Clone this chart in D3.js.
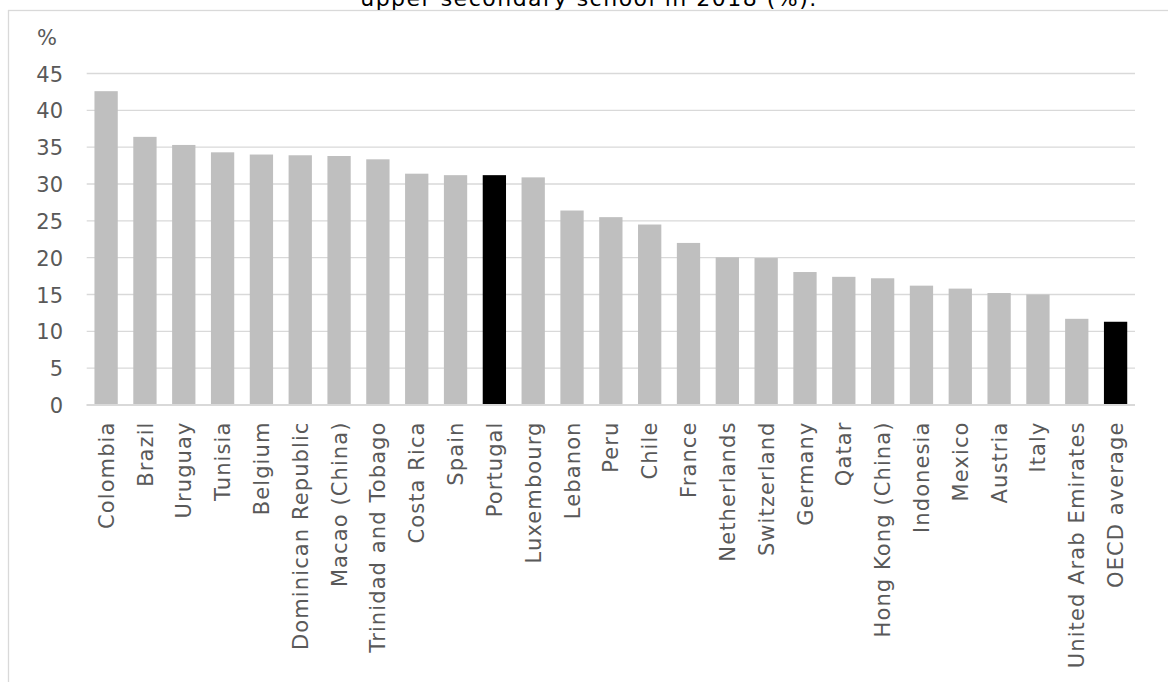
<!DOCTYPE html>
<html>
<head>
<meta charset="utf-8">
<script src="https://cdn.jsdelivr.net/npm/d3@7/dist/d3.min.js"></script>
<style>
  html, body { margin: 0; padding: 0; background: #fff; }
  svg { display: block; }
</style>
</head>
<body>
<svg id="chart" width="1168" height="682"></svg>
<script>
const categories = ["Colombia","Brazil","Uruguay","Tunisia","Belgium","Dominican Republic","Macao (China)","Trinidad and Tobago","Costa Rica","Spain","Portugal","Luxembourg","Lebanon","Peru","Chile","France","Netherlands","Switzerland","Germany","Qatar","Hong Kong (China)","Indonesia","Mexico","Austria","Italy","United Arab Emirates","OECD average"];
const values = [42.6,36.4,35.3,34.3,34.0,33.9,33.8,33.35,31.4,31.2,31.2,30.9,26.4,25.5,24.5,22.0,20.05,19.95,18.05,17.4,17.2,16.2,15.8,15.2,15.0,11.7,11.3];
const highlighted = ["Portugal","OECD average"];
const yTicks = [0,5,10,15,20,25,30,35,40,45];
const titleText = "upper secondary school in 2018 (%).";
const yUnit = "%";

const svg = d3.select("#chart");
const font = "'DejaVu Sans', sans-serif";

// frame
svg.append("rect")
  .attr("x", 8.5).attr("y", 10.5)
  .attr("width", 1200).attr("height", 700)
  .attr("fill", "none").attr("stroke", "#d9d9d9").attr("stroke-width", 1.3);

// title (second line of the title, partly above the picture)
svg.append("text")
  .attr("x", 589).attr("y", 6)
  .attr("text-anchor", "middle")
  .attr("font-family", font).attr("font-size", 22)
  .attr("letter-spacing", 1.5)
  .attr("fill", "#000")
  .text(titleText);

const x = d3.scaleBand().domain(categories).range([86.7, 1135]).paddingInner(0.4).paddingOuter(0.2);
const y = d3.scaleLinear().domain([0, 45]).range([405, 73.5]);

// gridlines
svg.append("g").selectAll("line").data(yTicks).join("line")
  .attr("x1", 86.7).attr("x2", 1135)
  .attr("y1", d => y(d)).attr("y2", d => y(d))
  .attr("stroke", "#d9d9d9").attr("stroke-width", d => d === 0 ? 1.8 : 1.4);

// y axis labels
const yAxis = d3.axisLeft(y).tickValues(yTicks).tickSize(0).tickPadding(0);
const ya = svg.append("g").attr("transform", "translate(63,0)").call(yAxis);
ya.select(".domain").remove();
ya.selectAll("text")
  .attr("font-family", font).attr("font-size", 21)
  .attr("fill", "#595959").attr("dy", "0.36em");

svg.append("text")
  .attr("x", 37).attr("y", 45)
  .attr("font-family", font).attr("font-size", 21)
  .attr("fill", "#595959")
  .text(yUnit);

// bars
svg.append("g").selectAll("rect").data(categories).join("rect")
  .attr("x", d => x(d))
  .attr("width", x.bandwidth())
  .attr("y", (d, i) => y(values[i]))
  .attr("height", (d, i) => y(0) - y(values[i]))
  .attr("fill", d => highlighted.includes(d) ? "#000000" : "#bfbfbf");

// baseline over bars
svg.append("line")
  .attr("x1", 86.7).attr("x2", 1135)
  .attr("y1", y(0)).attr("y2", y(0))
  .attr("stroke", "#d9d9d9").attr("stroke-width", 1.8);

// x labels
const xAxis = d3.axisBottom(x).tickSize(0).tickPadding(0);
const xa = svg.append("g").attr("transform", `translate(0,${y(0)})`).call(xAxis);
xa.select(".domain").remove();
xa.selectAll("text")
  .attr("font-family", font).attr("font-size", 21)
  .attr("letter-spacing", 1.1)
  .attr("fill", "#595959")
  .attr("text-anchor", "end")
  .attr("transform", "rotate(-90)")
  .attr("x", -16.5).attr("y", 0).attr("dy", "0.36em");
</script>
</body>
</html>
